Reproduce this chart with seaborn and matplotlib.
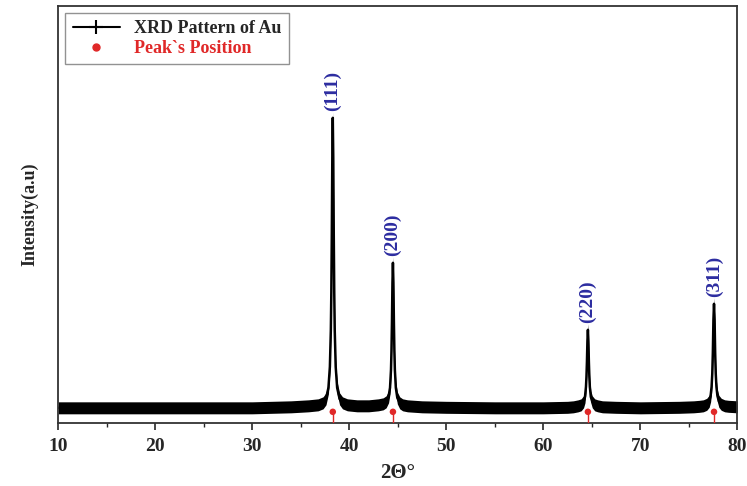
import matplotlib
matplotlib.use("Agg")
import matplotlib.pyplot as plt
import seaborn as sns
import pandas as pd
from matplotlib.lines import Line2D
from matplotlib.ticker import MultipleLocator

# XRD pattern (2-theta in degrees, intensity in a.u.)
two_theta = [10, 20, 30, 34, 35.8, 36.8, 37.3, 37.6, 37.85, 38.0, 38.1, 38.15, 38.2, 38.25,
             38.3, 38.35, 38.4, 38.45, 38.5, 38.6, 38.75, 39.0, 39.3, 39.8, 40.8, 42.0,
             43.0, 43.5, 43.8, 44.05, 44.2, 44.3, 44.35, 44.4, 44.45, 44.5, 44.55, 44.6,
             44.65, 44.7, 44.8, 44.95, 45.2, 45.5, 46.0, 47.5, 50, 55, 60, 62.5, 63.1,
             63.6, 63.9, 64.15, 64.3, 64.4, 64.45, 64.5, 64.55, 64.6, 64.65, 64.7, 64.75,
             64.8, 64.9, 65.05, 65.3, 65.6, 66.1, 67.5, 70, 74, 75.5, 76.1, 76.5, 76.85,
             77.1, 77.25, 77.35, 77.42, 77.48, 77.54, 77.6, 77.66, 77.72, 77.78, 77.85,
             77.95, 78.1, 78.35, 78.7, 79.1, 80]
intensity = [0, 0, 0, 1, 2, 3, 5, 9, 20, 41, 78, 116, 175, 250,
             290, 250, 175, 116, 78, 41, 20, 9, 5, 3, 2, 2,
             3, 4, 6, 11, 20, 38, 57, 86, 125, 145, 125, 86,
             57, 38, 20, 10, 5, 3, 2, 1, 0.5, 0, 0, 0.5, 1,
             2, 3, 6, 11, 21, 31, 46, 67, 78, 67, 46, 31,
             21, 11, 6, 3, 2, 1, 0.5, 0, 0.5, 1, 1.5, 2, 3.5,
             6.5, 12, 21, 34, 55, 88, 104, 88, 55, 34, 21,
             12, 6.5, 3.5, 2, 1.5, 1]
noise_band = 6  # half thickness of the noisy baseline

peak_pos = [38.3, 44.5, 64.6, 77.6]
peak_top = [296, 151, 84, 110]
peak_hkl = ["(111)", "(200)", "(220)", "(311)"]

df = pd.DataFrame({"two_theta": two_theta, "intensity": intensity})
peaks = pd.DataFrame({"pos": peak_pos, "y": [-4] * len(peak_pos)})

sns.set_theme(style="ticks")
plt.rcParams['font.family'] = ['Liberation Serif', 'DejaVu Serif']
plt.rcParams['font.weight'] = 'bold'

fig = plt.figure(figsize=(7.47, 4.86), dpi=100)
ax = fig.add_axes([0.078, 0.13, 0.909, 0.858])

lo = [v - noise_band for v in intensity]
hi = [v + noise_band for v in intensity]
ax.fill_between(two_theta, lo, hi, color='black', linewidth=0)
sns.lineplot(data=df, x="two_theta", y="intensity", ax=ax, color='black', linewidth=1.8)

# peak position markers
ax.vlines(peak_pos, -15, -2, color='#e02828', linewidth=1.0, zorder=3)
sns.scatterplot(data=peaks, x="pos", y="y", ax=ax, color='#e02828', s=22,
                edgecolor='none', zorder=4)

for x, y, t in zip(peak_pos, peak_top, peak_hkl):
    ax.text(x, y + 1, t, rotation=90, ha='center', va='bottom',
            color='#2c2ca0', fontsize=14, fontweight='bold')

ax.set_xlim(10, 80)
ax.set_ylim(-15, 402)
ax.xaxis.set_major_locator(MultipleLocator(10))
ax.xaxis.set_minor_locator(MultipleLocator(5))
ax.set_yticks([])
ax.tick_params(axis='x', which='major', direction='out', length=5, width=1.2,
               labelsize=14, pad=6)
ax.tick_params(axis='x', which='minor', direction='out', length=3, width=1.0)
for lbl in ax.get_xticklabels():
    lbl.set_fontweight('bold')
for s in ax.spines.values():
    s.set_visible(True)
    s.set_linewidth(1.3)
    s.set_color('#333333')

ax.set_xlabel("2Θ°", fontsize=15, fontweight='bold', labelpad=6)
ax.set_ylabel("Intensity(a.u)", fontsize=13, fontweight='bold', labelpad=14)

handles = [
    Line2D([], [], color='black', marker='+', markersize=10, markeredgewidth=1.5, linewidth=1.5),
    Line2D([], [], color='#e02828', marker='o', linestyle='none', markersize=5),
]
leg = ax.legend(handles, ["XRD Pattern of Au", "Peak`s Position"], loc='upper left',
                frameon=True, fancybox=False, edgecolor='#777777',
                borderaxespad=0.4, handlelength=2.6, labelspacing=0.15,
                prop={'weight': 'bold', 'size': 13})
leg.get_frame().set_linewidth(1.0)
leg.get_texts()[1].set_color('#e02828')

fig.savefig("out.png", dpi=100, facecolor='white')
